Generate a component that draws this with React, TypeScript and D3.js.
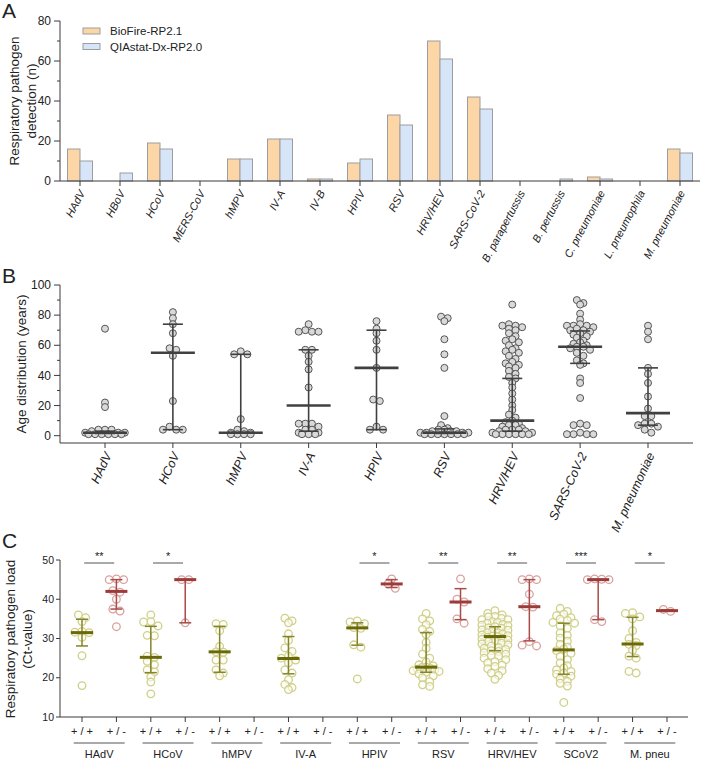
import React from 'react';
import * as d3 from 'd3';

// ---- Panel A: detections per assay ----
const pathogensA = ['HAdV', 'HBoV', 'HCoV', 'MERS-CoV', 'hMPV', 'IV-A', 'IV-B', 'HPIV', 'RSV', 'HRV/HEV',
  'SARS-CoV-2', 'B. parapertussis', 'B. pertussis', 'C. pneumoniae', 'L. pneumophila', 'M. pneumoniae'];
const bioFireCounts = [16, 0, 19, 0, 11, 21, 1, 9, 33, 70, 42, 0, 0, 2, 0, 16];
const qiastatCounts = [10, 4, 16, 0, 11, 21, 1, 11, 28, 61, 36, 0, 1, 1, 0, 14];
const seriesNames = ['BioFire-RP2.1', 'QIAstat-Dx-RP2.0'];
const yTicksA = [0, 20, 40, 60, 80];

// ---- Panel B: age distribution ----
const agePathogens = ['HAdV', 'HCoV', 'hMPV', 'IV-A', 'HPIV', 'RSV', 'HRV/HEV', 'SARS-CoV-2', 'M. pneumoniae'];
const ageHAdV = [71, 22, 19, 4, 4, 4, 3, 2, 2, 2, 1, 1, 1, 1, 1, 1];
const ageHCoV = [82, 78, 74, 68, 58, 57, 53, 23, 6, 4, 4, 4];
const ageHMPV = [56, 54, 54, 11, 4, 3, 2, 2, 1, 1, 1, 1];
const ageIVA = [74, 70, 69, 69, 69, 57, 57, 53, 49, 44, 32, 8, 8, 8, 6, 4, 4, 2, 2, 1, 1, 1];
const ageHPIV = [76, 71, 68, 63, 57, 45, 24, 23, 6, 4, 4];
const ageRSV = [79, 78, 76, 64, 54, 45, 13, 7, 5, 4, 4, 3, 3, 3, 2, 2, 2, 2, 1, 1, 1, 1, 1, 1, 1];
const ageHRV = [87, 74, 73, 73, 72, 71, 70, 68, 66, 64, 63, 62, 60, 58, 57, 56, 55, 53, 51, 49, 48, 47, 46, 45,
  43, 41, 39, 38, 35, 32, 28, 24, 20, 17, 14, 12, 10, 9, 8, 7, 7, 6, 5, 4, 4, 4, 3, 3, 2, 2, 1, 1, 1, 1, 1, 1];
const ageSCoV2 = [90, 88, 87, 81, 77, 74, 73, 73, 73, 72, 71, 70, 70, 69, 68, 67, 66, 65, 63, 62, 61, 60, 59, 59,
  58, 57, 55, 53, 50, 48, 47, 38, 35, 25, 8, 7, 7, 2, 1, 1, 1, 1];
const ageMPneu = [73, 69, 64, 45, 41, 35, 26, 18, 13, 13, 8, 8, 7, 6, 4, 2];
const ageMedian = [2, 55, 2, 20, 45, 2, 10, 59, 15];
const ageQ1 = [1.5, 4, 2, 3, 4, 1.5, 3, 48, 7];
const ageQ3 = [3, 74, 54, 57, 70, 4.5, 38, 69.5, 45];
const yTicksB = [0, 20, 40, 60, 80, 100];

// ---- Panel C: Ct values, concordant (+/+) vs discordant (+/-) ----
const loadPathogens = ['HAdV', 'HCoV', 'hMPV', 'IV-A', 'HPIV', 'RSV', 'HRV/HEV', 'SCoV2', 'M. pneu'];
const loadGroups = ['+ / +', '+ / -'];
const ctHAdVpp = [36, 35.3, 34.3, 31.8, 31.6, 31.5, 30.3, 25.6, 18];
const ctHAdVpn = [45.2, 45, 45, 42.2, 41.8, 40, 37.5, 37, 33];
const ctHCoVpp = [36, 34.3, 34.2, 33.2, 30.8, 30.7, 25.5, 25.2, 24.2, 23.3, 22, 21.5, 20.2, 18.9, 15.9];
const ctHCoVpn = [45, 45, 34];
const ctHMPVpp = [33.8, 33.6, 32, 28, 26.6, 26.5, 24.5, 24.5, 22, 21.2, 20.5];
const ctHMPVpn: number[] = [];
const ctIVApp = [35.2, 34.5, 34, 31.2, 29.5, 27.6, 26.7, 25.5, 25, 24.5, 23.8, 22, 21.2, 19.5, 18.3, 17.5, 17];
const ctIVApn: number[] = [];
const ctHPIVpp = [34.5, 34.2, 33.8, 32.8, 32.6, 28.4, 27.8, 19.7];
const ctHPIVpn = [45.2, 43.9, 42.8];
const ctRSVpp = [36.4, 35, 34.5, 33.5, 32.3, 31.8, 31, 29, 27.5, 26, 25, 24, 23.3, 23, 22.7, 22.6, 22.4, 22.2,
  22, 21.8, 21.6, 21.4, 21, 20.5, 20, 19, 18.2, 17.8];
const ctRSVpn = [45.2, 40, 39.3, 35, 33.9];
const ctHRVpp = [37.1, 36.4, 36.0, 35.6, 35.5, 35.1, 34.8, 34.8, 34.3, 34.1, 33.9, 33.6, 33.4, 33.3, 33.0, 32.7,
  32.6, 32.2, 32.1, 31.8, 31.5, 31.5, 31.2, 30.9, 30.7, 30.6, 30.5, 30.3, 30.1, 29.8, 29.6, 29.3, 29.2, 28.8,
  28.6, 28.4, 28.1, 27.7, 27.5, 27.2, 26.9, 26.7, 26.4, 26.0, 25.7, 25.5, 25.0, 24.6, 24.1, 23.8, 23.2, 22.9,
  22.3, 21.8, 21.2, 20.6, 19.6];
const ctHRVpn = [45.2, 45, 45, 41.3, 38.1, 38, 29.2, 28.3, 28.1];
const ctSCoV2pp = [37.7, 36.9, 36.2, 35.8, 35.3, 34.9, 34.6, 34.1, 33.9, 33.2, 32.6, 31.4, 30.8, 30.1, 29.3,
  28.5, 27.8, 27.3, 26.9, 26.2, 25.4, 24.6, 23.8, 23.1, 22.5, 22.0, 21.6, 21.2, 20.9, 20.4, 19.8, 19.1, 18.6,
  17.9, 13.7];
const ctSCoV2pn = [45.2, 45.1, 45, 45, 34.8, 34.3];
const ctMPneupp = [36.6, 36.4, 35.5, 35, 32, 30, 29, 28.5, 28.2, 27, 25.5, 25, 21.6, 21.2];
const ctMPneupn = [37.4, 36.9];
// median / IQR per column, in column order (+/+, +/- for each pathogen)
const ctMedian = [31.5, 42, 25.2, 45, 26.6, NaN, 24.9, NaN, 32.7, 43.9, 22.7, 39.3, 30.5, 38.1, 27.1, 45, 28.6, 37.1];
const ctQ1 = [28.1, 37.5, 21.3, 34, 21.4, NaN, 21, NaN, 28.3, 43, 21.4, 34.8, 26.9, 29.4, 20.9, 34.8, 25.4, 37];
const ctQ3 = [34.9, 45, 33.1, 45, 33.1, NaN, 30.5, NaN, 34, 45, 31.5, 42.7, 33, 45, 33.9, 45, 35.4, 37.3];
const significance = ['**', '*', '', '', '*', '**', '**', '***', '*'];
const yTicksC = [10, 20, 30, 40, 50];

const FONT = '"Liberation Sans", Arial, Helvetica, sans-serif';
const AXIS = '#3a3a3a';

// scatter-dot layout: points close in y share a row and are spread sideways (capped width)
function dotRows(values: number[], y: (v: number) => number, rowH: number, step: number, maxHalf: number) {
  const pts = values.map((v) => ({ v, y: y(v), x: 0 })).sort((a, b) => a.y - b.y);
  const out: typeof pts = [];
  let row: typeof pts = [];
  const flush = () => {
    const n = row.length;
    const s = n > 1 ? Math.min(step, (2 * maxHalf) / (n - 1)) : 0;
    const offs = d3.range(n).map((k) => (k - (n - 1) / 2) * s)
      .sort((a, b) => Math.abs(a) - Math.abs(b) || a - b);
    row.forEach((p, k) => { p.x = offs[k]; out.push(p); });
    row = [];
  };
  pts.forEach((p) => {
    if (row.length && p.y - row[0].y > rowH) flush();
    row.push(p);
  });
  flush();
  return out;
}

function PanelA() {
  const x = d3.scaleBand().domain(pathogensA).range([60, 700]);
  const y = d3.scaleLinear().domain([0, 80]).range([181, 21]);
  const bw = 12.5;
  const minor = [10, 30, 50, 70];
  return (
    <g>
      <text x={2} y={18} fontSize={21}>A</text>
      {pathogensA.map((p, i) => {
        const cx = x(p)! + x.bandwidth() / 2;
        return (
          <g key={p}>
            <rect x={cx - bw} y={y(bioFireCounts[i])} width={bw} height={y(0) - y(bioFireCounts[i])}
              fill="#fdd6a8" stroke="#9d9d9d" strokeWidth={1} />
            <rect x={cx} y={y(qiastatCounts[i])} width={bw} height={y(0) - y(qiastatCounts[i])}
              fill="#d6e5f7" stroke="#9d9d9d" strokeWidth={1} />
          </g>
        );
      })}
      <line x1={60} x2={60} y1={y(80)} y2={y(0)} stroke={AXIS} />
      <line x1={60} x2={700} y1={y(0)} y2={y(0)} stroke={AXIS} />
      {yTicksA.map((t) => (
        <g key={t}>
          <line x1={54} x2={60} y1={y(t)} y2={y(t)} stroke={AXIS} />
          <text x={51} y={y(t)} dy="0.35em" textAnchor="end" fontSize={12}>{t}</text>
        </g>
      ))}
      {minor.map((t) => <line key={t} x1={57} x2={60} y1={y(t)} y2={y(t)} stroke={AXIS} />)}
      {pathogensA.map((p) => {
        const cx = x(p)! + x.bandwidth() / 2;
        return (
          <g key={p}>
            <line x1={cx} x2={cx} y1={y(0)} y2={y(0) + 5} stroke={AXIS} />
            <text transform={`translate(${cx + 2},${y(0) + 10}) rotate(-62)`} textAnchor="end" dy="0.35em"
              fontSize={11} fontStyle="italic">{p}</text>
          </g>
        );
      })}
      <text transform={`translate(19,101) rotate(-90)`} textAnchor="middle" fontSize={13.5}>Respiratory pathogen</text>
      <text transform={`translate(36,101) rotate(-90)`} textAnchor="middle" fontSize={13.5}>detection (n)</text>
      {seriesNames.map((s, i) => (
        <g key={s}>
          <rect x={83} y={28 + i * 15.5} width={17} height={6} fill={i ? '#d6e5f7' : '#fdd6a8'} stroke="#9d9d9d" />
          <text x={110} y={35 + i * 15.5} fontSize={11.5}>{s}</text>
        </g>
      ))}
    </g>
  );
}

function PanelB() {
  const x = d3.scalePoint().domain(agePathogens).range([105, 648]);
  const y = d3.scaleLinear().domain([0, 100]).range([435.7, 285]);
  const groups = [ageHAdV, ageHCoV, ageHMPV, ageIVA, ageHPIV, ageRSV, ageHRV, ageSCoV2, ageMPneu];
  const minor = [10, 30, 50, 70, 90];
  const c = '#404040';
  return (
    <g>
      <text x={2} y={283} fontSize={21}>B</text>
      {groups.map((vals, i) => {
        const cx = x(agePathogens[i])!;
        return (
          <g key={i}>
            {dotRows(vals, y, 3.6, 6.6, 24).map((p, j) => (
              <circle key={j} cx={cx + p.x} cy={p.y} r={3.5} fill="#d9d9d9" stroke="#555" strokeWidth={1} />
            ))}
            <line x1={cx} x2={cx} y1={y(ageQ1[i])} y2={y(ageQ3[i])} stroke={c} strokeWidth={1.6} />
            <line x1={cx - 10} x2={cx + 10} y1={y(ageQ1[i])} y2={y(ageQ1[i])} stroke={c} strokeWidth={1.6} />
            <line x1={cx - 10} x2={cx + 10} y1={y(ageQ3[i])} y2={y(ageQ3[i])} stroke={c} strokeWidth={1.6} />
            <line x1={cx - 22} x2={cx + 22} y1={y(ageMedian[i])} y2={y(ageMedian[i])} stroke={c} strokeWidth={2.6} />
          </g>
        );
      })}
      <line x1={60} x2={60} y1={y(100)} y2={443} stroke={AXIS} />
      <line x1={60} x2={693} y1={443} y2={443} stroke={AXIS} />
      {yTicksB.map((t) => (
        <g key={t}>
          <line x1={54} x2={60} y1={y(t)} y2={y(t)} stroke={AXIS} />
          <text x={51} y={y(t)} dy="0.35em" textAnchor="end" fontSize={12}>{t}</text>
        </g>
      ))}
      {minor.map((t) => <line key={t} x1={57} x2={60} y1={y(t)} y2={y(t)} stroke={AXIS} />)}
      {agePathogens.map((p) => {
        const cx = x(p)!;
        return (
          <g key={p}>
            <line x1={cx} x2={cx} y1={443} y2={448} stroke={AXIS} />
            <text transform={`translate(${cx + 3},${453}) rotate(-65)`} textAnchor="end" dy="0.35em"
              fontSize={12.5} fontStyle="italic">{p}</text>
          </g>
        );
      })}
      <text transform={`translate(26,364) rotate(-90)`} textAnchor="middle" fontSize={13.5}>Age distribution (years)</text>
    </g>
  );
}

function PanelC() {
  const cols = loadPathogens.flatMap((p) => loadGroups.map((g) => `${p}|${g}`));
  const x = d3.scalePoint().domain(cols).range([82, 667]);
  const y = d3.scaleLinear().domain([10, 50]).range([717, 560]);
  const groups = [ctHAdVpp, ctHAdVpn, ctHCoVpp, ctHCoVpn, ctHMPVpp, ctHMPVpn, ctIVApp, ctIVApn, ctHPIVpp, ctHPIVpn,
    ctRSVpp, ctRSVpn, ctHRVpp, ctHRVpn, ctSCoV2pp, ctSCoV2pn, ctMPneupp, ctMPneupn];
  return (
    <g>
      <text x={2} y={548} fontSize={21}>C</text>
      {groups.map((vals, i) => {
        const cx = x(cols[i])!;
        const neg = i % 2 === 1;
        const dot = neg ? '#d9a1a1' : '#d0cf8a';
        const bar = neg ? '#a84b49' : '#85842a';
        const med = neg ? '#9c3c3a' : '#6a6908';
        if (!vals.length) return null;
        return (
          <g key={i}>
            {dotRows(vals, y, 4.5, 7.2, 13).map((p, j) => (
              <circle key={j} cx={cx + p.x} cy={p.y} r={3.8} fill="#fdfdf6" fillOpacity={0.6} stroke={dot} strokeWidth={1.3} />
            ))}
            <line x1={cx} x2={cx} y1={y(ctQ1[i])} y2={y(ctQ3[i])} stroke={bar} strokeWidth={1.5} />
            <line x1={cx - 6} x2={cx + 6} y1={y(ctQ1[i])} y2={y(ctQ1[i])} stroke={bar} strokeWidth={1.5} />
            <line x1={cx - 6} x2={cx + 6} y1={y(ctQ3[i])} y2={y(ctQ3[i])} stroke={bar} strokeWidth={1.5} />
            <line x1={cx - 11} x2={cx + 11} y1={y(ctMedian[i])} y2={y(ctMedian[i])} stroke={med} strokeWidth={3} />
          </g>
        );
      })}
      <line x1={60} x2={60} y1={y(50)} y2={y(10)} stroke={AXIS} />
      <line x1={60} x2={688} y1={y(10)} y2={y(10)} stroke={AXIS} />
      {yTicksC.map((t) => (
        <g key={t}>
          <line x1={56} x2={60} y1={y(t)} y2={y(t)} stroke={AXIS} />
          <text x={54} y={y(t)} dy="0.35em" textAnchor="end" fontSize={10.5}>{t}</text>
        </g>
      ))}
      {cols.map((c, i) => (
        <g key={c}>
          <line x1={x(c)!} x2={x(c)!} y1={y(10)} y2={y(10) + 5} stroke={AXIS} />
          <text x={x(c)!} y={735} textAnchor="middle" fontSize={11}>{loadGroups[i % 2]}</text>
        </g>
      ))}
      {loadPathogens.map((p, i) => {
        const mid = (x(cols[2 * i])! + x(cols[2 * i + 1])!) / 2;
        return (
          <g key={p}>
            <line x1={mid - 25.5} x2={mid + 25.5} y1={743} y2={743} stroke="#555" />
            <text x={mid} y={758} textAnchor="middle" fontSize={11}>{p}</text>
            {significance[i] && (
              <g>
                <line x1={mid - 15} x2={mid + 15} y1={563} y2={563} stroke="#555" />
                <text x={mid} y={560} textAnchor="middle" fontSize={11}>{significance[i]}</text>
              </g>
            )}
          </g>
        );
      })}
      <text transform={`translate(15,639) rotate(-90)`} textAnchor="middle" fontSize={13.5}>Respiratory pathogen load</text>
      <text transform={`translate(32,639) rotate(-90)`} textAnchor="middle" fontSize={13.5}>(Ct-value)</text>
    </g>
  );
}

export default function App() {
  return (
    <svg width={702} height={762} style={{ position: 'absolute', left: 0, top: 0, background: '#fff' }}
      fontFamily={FONT} fill="#222">
      <PanelA />
      <PanelB />
      <PanelC />
    </svg>
  );
}
